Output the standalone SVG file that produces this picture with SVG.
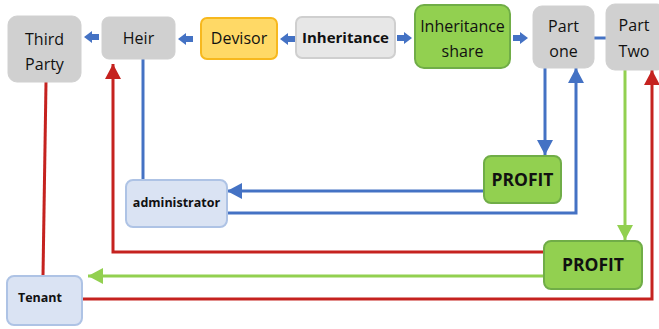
<svg xmlns="http://www.w3.org/2000/svg" width="659" height="329" viewBox="0 0 659 329">
  <style>
    text { font-family: "Open Sans", "Liberation Sans", sans-serif; fill: #111111; text-anchor: middle; }
    .lbl { font-size: 16px; }
    .big { font-size: 17.5px; }
    .b { font-weight: bold; }
    .grey { fill: #d0d0d0; stroke: #d0d0d0; stroke-width: 1; }
    .light { fill: #e7e7e7; stroke: #cfcfcf; stroke-width: 2; }
    .yellow { fill: #ffd966; stroke: #f7b81e; stroke-width: 2; }
    .green { fill: #92d050; stroke: #70ad47; stroke-width: 2; }
    .pale { fill: #dae3f3; stroke: #aec3e5; stroke-width: 2; }
    .blue { stroke: #4472c4; stroke-width: 3; fill: none; }
    .red { stroke: #c5221f; stroke-width: 3; fill: none; }
    .lime { stroke: #92d050; stroke-width: 3; fill: none; }
    .blk { fill: #4472c4; }
  </style>
  <defs>
    <marker id="ahBlue" markerUnits="userSpaceOnUse" markerWidth="15" markerHeight="16" refX="15" refY="8" orient="auto">
      <path d="M0,0 L15,8 L0,16 z" fill="#4472c4"/>
    </marker>
    <marker id="ahRed" markerUnits="userSpaceOnUse" markerWidth="15" markerHeight="16" refX="15" refY="8" orient="auto">
      <path d="M0,0 L15,8 L0,16 z" fill="#c5221f"/>
    </marker>
    <marker id="ahLime" markerUnits="userSpaceOnUse" markerWidth="15" markerHeight="16" refX="15" refY="8" orient="auto">
      <path d="M0,0 L15,8 L0,16 z" fill="#92d050"/>
    </marker>
    <!-- short block arrows, tip at origin -->
    <path id="blockL" d="M0,0 L8,-6 L8,-3 L15,-3 L15,3 L8,3 L8,6 z"/>
    <path id="blockR" d="M0,0 L-8,-6 L-8,-3 L-15,-3 L-15,3 L-8,3 L-8,6 z"/>
  </defs>

  <g id="connectors">
    <!-- top row block arrows -->
    <use href="#blockL" class="blk" x="84" y="37"/>
    <use href="#blockL" class="blk" x="178" y="39"/>
    <use href="#blockL" class="blk" x="280" y="39"/>
    <use href="#blockR" class="blk" x="412" y="38"/>
    <use href="#blockR" class="blk" x="528" y="38"/>
    <line x1="594" y1="38" x2="606" y2="38" class="blue"/>

    <!-- blue flows -->
    <line x1="143" y1="59" x2="143" y2="180" class="blue"/>
    <line x1="545" y1="68" x2="545" y2="155" class="blue" marker-end="url(#ahBlue)"/>
    <line x1="483" y1="191" x2="227" y2="191" class="blue" marker-end="url(#ahBlue)"/>
    <polyline points="227,213 576,213 576,68" class="blue" marker-end="url(#ahBlue)"/>

    <!-- green flows -->
    <line x1="625" y1="70" x2="625" y2="240" class="lime" marker-end="url(#ahLime)"/>
    <line x1="544" y1="276" x2="88" y2="276" class="lime" marker-end="url(#ahLime)"/>

    <!-- red flows -->
    <line x1="46" y1="82" x2="43" y2="276" class="red"/>
    <polyline points="544,252 113,252 113,64" class="red" marker-end="url(#ahRed)"/>
    <polyline points="82,299 652,299 652,70" class="red" marker-end="url(#ahRed)"/>
  </g>

  <g id="third-party">
    <rect x="8" y="16" width="73" height="66" rx="9" class="grey"/>
    <text x="44.5" y="45" class="lbl">Third</text>
    <text x="44.5" y="70" class="lbl">Party</text>
  </g>
  <g id="heir">
    <rect x="102" y="17" width="73" height="42" rx="7" class="grey"/>
    <text x="138.5" y="44" class="lbl">Heir</text>
  </g>
  <g id="devisor">
    <rect x="201" y="18" width="76" height="41" rx="6" class="yellow"/>
    <text x="239" y="44" class="lbl">Devisor</text>
  </g>
  <g id="inheritance">
    <rect x="296" y="17" width="99" height="41" rx="6" class="light"/>
    <text x="345.5" y="43" font-size="15" class="b">Inheritance</text>
  </g>
  <g id="inheritance-share">
    <rect x="415" y="5" width="95" height="63" rx="9" class="green"/>
    <text x="462.5" y="32" class="lbl">Inheritance</text>
    <text x="462.5" y="57" class="lbl">share</text>
  </g>
  <g id="part-one">
    <rect x="533" y="6" width="61" height="62" rx="9" class="grey"/>
    <text x="563.5" y="32" class="lbl">Part</text>
    <text x="563.5" y="57" class="lbl">one</text>
  </g>
  <g id="part-two">
    <rect x="606" y="4" width="60" height="66" rx="9" class="grey"/>
    <text x="634" y="31" class="lbl">Part</text>
    <text x="634" y="57" class="lbl">Two</text>
  </g>
  <g id="profit-one">
    <rect x="484" y="156" width="77" height="47" rx="7" class="green"/>
    <text x="522.5" y="186" class="big b">PROFIT</text>
  </g>
  <g id="administrator">
    <rect x="126" y="180" width="101" height="47" rx="7" class="pale"/>
    <text x="176.5" y="207" font-size="12.5" class="b">administrator</text>
  </g>
  <g id="profit-two">
    <rect x="544" y="241" width="98" height="48" rx="7" class="green"/>
    <text x="593" y="271" class="big b">PROFIT</text>
  </g>
  <g id="tenant">
    <rect x="7" y="276" width="75" height="49" rx="7" class="pale"/>
    <text x="40" y="302" font-size="12.5" class="b">Tenant</text>
  </g>
</svg>
